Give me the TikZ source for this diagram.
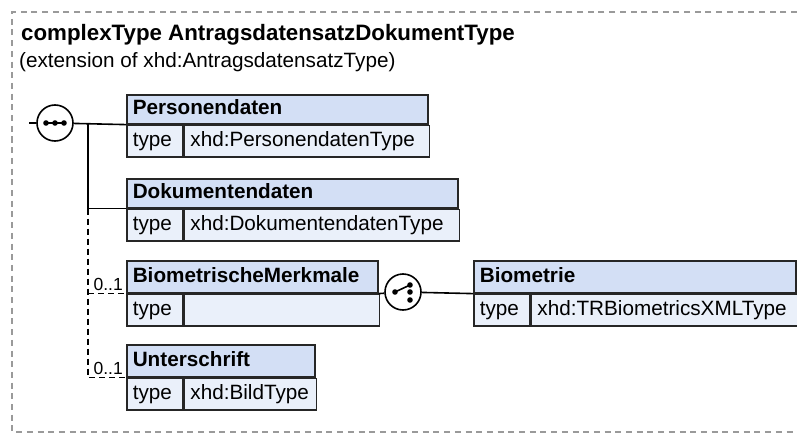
\documentclass[tikz,border=0pt]{standalone}
\usepackage{fontspec}
\setmainfont{Liberation Sans}
\usetikzlibrary{positioning,calc}
\definecolor{hdrblue}{HTML}{D3DFF5}
\definecolor{bodyblue}{HTML}{EAF0FA}
\definecolor{framegray}{HTML}{9A9A9A}
\tikzset{
  elhead/.style={draw=black!85,fill=hdrblue,line width=1.6pt,anchor=north west,
    inner xsep=6pt,inner ysep=0pt,align=left,text height=15pt,text depth=4pt,
    font=\fontsize{20.7}{24}\selectfont\bfseries},
  eltype/.style={draw=black!85,fill=bodyblue,line width=1.6pt,anchor=north west,
    inner xsep=6pt,inner ysep=0pt,align=left,text width=44pt,minimum height=31.5pt,
    text height=15pt,text depth=4pt,font=\fontsize{20.7}{24}\selectfont},
  elval/.style={eltype,text width=#1},
  compositor/.style={circle,draw,line width=1.6pt,fill=white,minimum size=36pt,inner sep=0pt},
  conn/.style={line width=1.6pt},
  optconn/.style={conn,dash pattern=on 6pt off 4pt},
  card/.style={font=\fontsize{17.5}{20}\selectfont,anchor=base east,inner sep=0pt},
}

\begin{document}
\begin{tikzpicture}[x=1pt,y=-1pt]
  \useasboundingbox (0,0) rectangle (797,433);
  % outer frame
  \draw[framegray,line width=1.2pt,dash pattern=on 6pt off 4.7pt] (797,12) -- (12,12) -- (12,432) -- (797,432);
  % title
  \node[anchor=base west,inner sep=0pt,font=\fontsize{22.3}{26}\selectfont\bfseries] (title) at (21,41)
    {complexType AntragsdatensatzDokumentType};
  \node[anchor=base west,inner sep=0pt,font=\fontsize{20.7}{24}\selectfont] (subtitle) at (19,68)
    {(extension of xhd:AntragsdatensatzType)};

  % Personendaten
  \node[elhead,text width=289pt,minimum height=29pt] (pers) at (126,94) {Personendaten};
  \node[eltype] (perstype) at (pers.south west) {type};
  \node[elval=233pt] (persval) at (perstype.north east) {xhd:PersonendatenType};
  % Dokumentendaten
  \node[elhead,text width=319pt,minimum height=29pt] (dok) at (126,178) {Dokumentendaten};
  \node[eltype] (doktype) at (dok.south west) {type};
  \node[elval=263pt] (dokval) at (doktype.north east) {xhd:DokumentendatenType};
  % BiometrischeMerkmale
  \node[elhead,text width=239pt,minimum height=32pt] (bio) at (126,260) {BiometrischeMerkmale};
  \node[eltype] (biotype) at (bio.south west) {type};
  \node[elval=183pt] (bioval) at (biotype.north east) {};
  % Unterschrift
  \node[elhead,text width=176pt,minimum height=32pt] (unt) at (126,344) {Unterschrift};
  \node[eltype] (unttype) at (unt.south west) {type};
  \node[elval=120pt] (untval) at (unttype.north east) {xhd:BildType};
  % Biometrie
  \node[elhead,text width=310pt,minimum height=32pt] (biom) at (473,260) {Biometrie};
  \node[eltype] (biomtype) at (biom.south west) {type};
  \node[elval=254pt] (biomval) at (biomtype.north east) {xhd:TRBiometricsXMLType};

  % sequence
  \coordinate (entry) at (29,123);
  \node[compositor] (seq) at (55,123) {};
  \draw[conn] ($(seq.center)+(-9,0)$) -- ($(seq.center)+(9,0)$);
  \foreach \d in {-9,0,9}
    \fill ($(seq.center)+(\d,0)$) circle (2.8pt);
  \coordinate (trunk) at (88,123);
  \draw[conn] (entry) -- (seq);
  \draw[conn] (seq) -- (pers.south west);
  \draw[conn] (trunk) |- (dok.south west);
  \draw[optconn] (trunk |- dok.south west) |- (unt.south west);
  \draw[optconn] (trunk |- bio.south west) -- (bio.south west);
  \node[card] (biocard) at ([xshift=-3pt,yshift=3pt]bio.south west) {0..1};
  \node[card] (untcard) at ([xshift=-3pt,yshift=3pt]unt.south west) {0..1};

  % choice
  \node[compositor] (choice) at (403,292) {};
  \draw[conn] ($(choice.center)+(-8,0)$) -- ($(choice.center)+(7,-7)$);
  \foreach \px/\py in {-8/0,7/-7,7/0,7/8}
    \fill ($(choice.center)+(\px,\py)$) circle (2.8pt);
  \draw[conn] (bio.south east) -- (choice);
  \draw[conn] (choice) -- (biom.south west);
\end{tikzpicture}
\end{document}
